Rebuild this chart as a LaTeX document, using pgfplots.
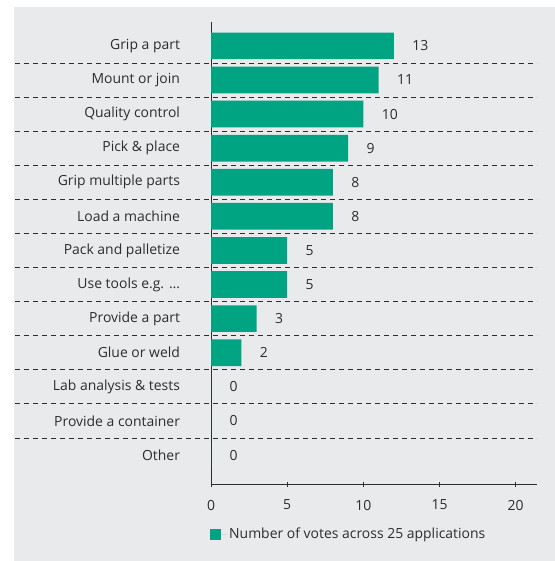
\documentclass[border=0pt]{standalone}
\usepackage{fontspec}
\setmainfont{Open Sans}
\usepackage{pgfplots}
\pgfplotsset{compat=1.18}
\usepackage{pgfplotstable}
\definecolor{bargreen}{RGB}{0,164,131}
\definecolor{panel}{RGB}{233,234,235}
\definecolor{txt}{RGB}{45,45,45}

% bar length as drawn, label as printed
\pgfplotstableread{
idx votes label
0 12 13
1 11 11
2 10 10
3 9 9
4 8 8
5 8 8
6 5 5
7 5 5
8 3 3
9 2 2
10 0 0
11 0 0
12 0 0
}\votes

\begin{document}
\begin{tikzpicture}[x=1bp,y=1bp]
\path[use as bounding box] (0,0) rectangle (555,561);
\fill[white] (0,0) rectangle (555,561);
\fill[panel] (14,0) rectangle (555,554);
\begin{axis}[
    at={(211bp,77bp)}, anchor=south west,
    width=326bp, height=462bp, scale only axis,
    xmin=0, xmax=21.4,
    ymin=-0.7, ymax=12.85, y dir=reverse,
    xbar, bar width=26.7bp,
    axis x line*=bottom, axis y line*=left,
    axis line style={txt, line width=0.8bp},
    clip=false,
    font=\fontsize{14}{16}\selectfont,
    /pgf/number format/assume math mode=true,
    xtick={0,5,...,20},
    x tick style={txt, line width=0.8bp},
    tick align=center, major tick length=5bp,
    xticklabel style={txt, yshift=-10bp},
    ytick={0,...,12},
    y tick style={draw=none},
    yticklabels={Grip a part, Mount or join, Quality control, Pick \& place,
        Grip multiple parts, Load a machine, Pack and palletize, Use tools e.g. …,
        Provide a part, Glue or weld, Lab analysis \& tests, Provide a container, Other},
    yticklabel style={txt, xshift=-25bp},
    point meta=explicit symbolic,
    nodes near coords={\pgfplotspointmeta},
    nodes near coords style={txt, anchor=west, xshift=15bp},
    legend style={draw=none, fill=none, at={(0,0)}, anchor=north west,
        xshift=-4bp, yshift=-40bp, text=txt, font=\fontsize{14}{16}\selectfont},
    legend cell align=left,
    legend image code/.code={
        \path (0bp,0bp) -- (17bp,0bp);
        \fill[bargreen] (0bp,-5.5bp) rectangle (11bp,5.5bp);},
]
\addplot[fill=bargreen, draw=none] table[x=votes, y=idx, meta=label] {\votes};
\addlegendentry{Number of votes across 25 applications}
\pgfplotsinvokeforeach{0.5,1.5,2.5,3.5,4.5,5.5,6.5,7.5,8.5,9.5,10.5,11.5}{
    \draw[txt, line width=0.8bp, dash pattern=on 5bp off 4bp]
        ([xshift=-196bp]axis cs:0,#1) -- (axis cs:21.4,#1);
}
\end{axis}
\end{tikzpicture}
\end{document}
